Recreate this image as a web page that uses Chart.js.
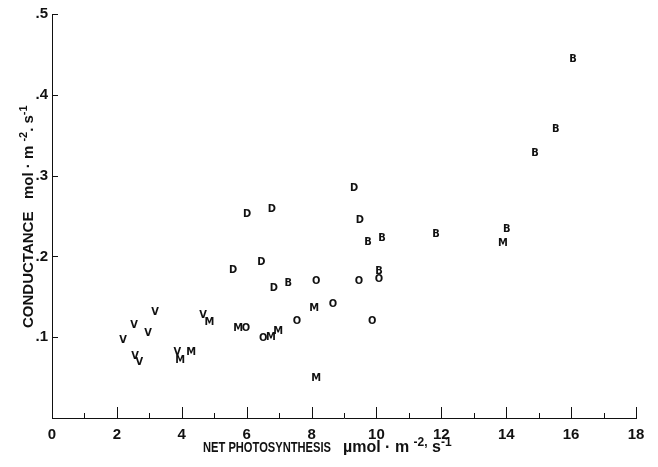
<!DOCTYPE html>
<html>
<head>
<meta charset="utf-8">
<script src="https://cdn.jsdelivr.net/npm/chart.js@4/dist/chart.umd.min.js"></script>
<style>
  html, body { margin: 0; padding: 0; background: #fff; }
</style>
</head>
<body>
<canvas id="myChart" width="658" height="467"></canvas>
<script>
// values, one pair of arrays per letter
const vX = [2.19, 2.53, 2.96, 3.18, 2.56, 2.69, 3.86, 4.66];
const vY = [0.096, 0.115, 0.105, 0.131, 0.076, 0.069, 0.082, 0.127];
const mX = [3.95, 4.29, 4.85, 5.74, 6.75, 6.97, 8.08, 8.14, 13.9];
const mY = [0.071, 0.081, 0.119, 0.111, 0.100, 0.107, 0.136, 0.049, 0.216];
const oX = [5.98, 6.51, 7.55, 8.14, 8.66, 9.46, 9.87, 10.08];
const oY = [0.111, 0.099, 0.120, 0.169, 0.141, 0.169, 0.120, 0.172];
const dX = [5.58, 6.01, 6.45, 6.84, 6.78, 9.31, 9.49];
const dY = [0.183, 0.252, 0.193, 0.161, 0.258, 0.284, 0.245];
const bX = [7.28, 10.08, 9.74, 10.17, 11.84, 14.02, 14.89, 15.53, 16.06];
const bY = [0.167, 0.182, 0.218, 0.223, 0.228, 0.234, 0.328, 0.357, 0.444];

const xTicks = [0, 2, 4, 6, 8, 10, 12, 14, 16, 18];
const yTicks = [0.1, 0.2, 0.3, 0.4, 0.5];

const narrow = "'Liberation Sans Narrow', 'DejaVu Sans Condensed', 'Liberation Sans', sans-serif";
const plain = "'Liberation Sans', Arial, sans-serif";

function pts(xs, ys) {
  return xs.map((x, i) => ({ x: x, y: ys[i] }));
}

function set(letter, xs, ys) {
  return { label: letter, letter: letter, data: pts(xs, ys), pointRadius: 0, showLine: false };
}

function fontFor(p, size) {
  return "bold " + (p.sup ? Math.round(size * 0.72) : size) + "px " + plain;
}

// text with superscript parts, starting at x = 0, squeezed to the given width
function drawParts(ctx, parts, size, width) {
  let total = 0;
  parts.forEach(p => {
    ctx.font = fontFor(p, size);
    p.w = ctx.measureText(p.t).width;
    total += p.w;
  });
  const sx = Math.min(1, width / total);
  ctx.save();
  ctx.scale(sx, 1);
  let x = 0;
  parts.forEach(p => {
    ctx.font = fontFor(p, size);
    ctx.fillText(p.t, x, p.sup ? -6 : 0);
    x += p.w;
  });
  ctx.restore();
}

const letters = {
  id: "letters",
  afterDatasetsDraw(chart) {
    const ctx = chart.ctx;
    ctx.save();
    ctx.fillStyle = "#111";
    ctx.font = "bold 11px " + narrow;
    ctx.textAlign = "center";
    ctx.textBaseline = "middle";
    chart.data.datasets.forEach((ds, i) => {
      chart.getDatasetMeta(i).data.forEach(pt => {
        ctx.fillText(ds.letter, pt.x, pt.y);
      });
    });
    ctx.restore();
  }
};

const frame = {
  id: "frame",
  afterDraw(chart) {
    const ctx = chart.ctx;
    const xs = chart.scales.x, ys = chart.scales.y;
    const a = chart.chartArea;
    ctx.save();
    ctx.strokeStyle = "#111";
    ctx.lineWidth = 1;
    ctx.beginPath();
    // inner ticks on the x axis, long on even numbers
    for (let v = 1; v <= 18; v++) {
      const px = Math.round(xs.getPixelForValue(v)) + 0.5;
      const len = v % 2 === 0 ? 11 : 5;
      ctx.moveTo(px, a.bottom);
      ctx.lineTo(px, a.bottom - len);
    }
    yTicks.forEach(v => {
      const py = Math.round(ys.getPixelForValue(v)) + 0.5;
      ctx.moveTo(a.left, py);
      ctx.lineTo(a.left + 6, py);
    });
    ctx.stroke();

    ctx.fillStyle = "#111";
    ctx.textAlign = "left";
    ctx.textBaseline = "alphabetic";

    ctx.save();
    ctx.translate(203, 452);
    drawParts(ctx, [{ t: "NET PHOTOSYNTHESIS" }], 15, 128);
    ctx.restore();
    ctx.save();
    ctx.translate(343, 452);
    drawParts(ctx, [
      { t: "\u00b5mol \u00b7 m " },
      { t: "-2,", sup: true },
      { t: " s" },
      { t: "-1", sup: true }
    ], 16, 110);
    ctx.restore();

    ctx.save();
    ctx.translate(33, 328);
    ctx.rotate(-Math.PI / 2);
    drawParts(ctx, [
      { t: "CONDUCTANCE   mol \u00b7 m " },
      { t: "-2", sup: true },
      { t: ". s" },
      { t: "-1", sup: true }
    ], 15, 231);
    ctx.restore();
    ctx.restore();
  }
};

const ctx = document.getElementById("myChart");

new Chart(ctx, {
  type: "scatter",
  data: {
    datasets: [
      set("V", vX, vY),
      set("M", mX, mY),
      set("O", oX, oY),
      set("D", dX, dY),
      set("B", bX, bY)
    ]
  },
  options: {
    responsive: false,
    animation: false,
    layout: { padding: { top: 14, right: 22, left: 0, bottom: 0 } },
    plugins: { legend: { display: false }, tooltip: { enabled: false } },
    scales: {
      x: {
        type: "linear",
        min: 0,
        max: 18,
        afterBuildTicks: s => { s.ticks = xTicks.map(v => ({ value: v })); },
        afterFit: s => { s.height = 49; },
        grid: { display: false, drawTicks: false },
        border: { display: true, color: "#111", width: 1 },
        ticks: {
          padding: 8,
          color: "#111",
          font: { family: plain, size: 15, weight: "bold" },
          maxRotation: 0
        }
      },
      y: {
        type: "linear",
        min: 0,
        max: 0.5,
        afterBuildTicks: s => { s.ticks = yTicks.map(v => ({ value: v })); },
        afterFit: s => { s.width = 52; },
        grid: { display: false, drawTicks: false },
        border: { display: true, color: "#111", width: 1 },
        ticks: {
          padding: 4,
          color: "#111",
          font: { family: plain, size: 15, weight: "bold" },
          callback: v => "." + Math.round(v * 10)
        }
      }
    }
  },
  plugins: [letters, frame]
});
</script>
</body>
</html>
